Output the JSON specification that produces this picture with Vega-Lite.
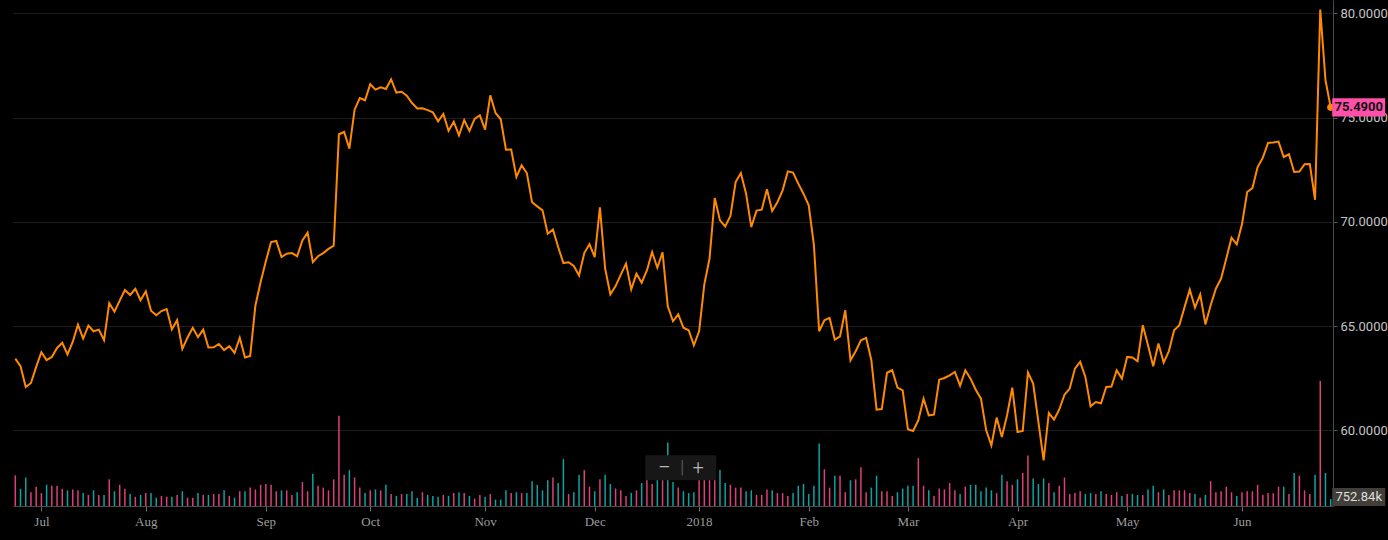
{
  "$schema": "https://vega.github.io/schema/vega-lite/v6.json",
  "width": 1320,
  "height": 506,
  "autosize": {"type": "none"},
  "padding": {"left": 13, "top": 0, "right": 55, "bottom": 34},
  "background": "#000000",
  "title": {
    "text": "FINANCE",
    "orient": "top",
    "anchor": "end",
    "frame": "group",
    "offset": 0,
    "dy": 9,
    "dx": -23,
    "baseline": "alphabetic",
    "color": "#202020",
    "fontSize": 18,
    "fontWeight": "bold",
    "font": "Liberation Sans"
  },
  "config": {"view": {"stroke": null}},
  "data": {
    "values": [
      {"d": "2017-06-26", "close": 63.44, "vol": 3330000, "dir": "up"},
      {"d": "2017-06-27", "close": 63.08, "vol": 1870000, "dir": "down"},
      {"d": "2017-06-28", "close": 62.08, "vol": 3100000, "dir": "down"},
      {"d": "2017-06-29", "close": 62.27, "vol": 1500000, "dir": "up"},
      {"d": "2017-06-30", "close": 63.04, "vol": 2100000, "dir": "up"},
      {"d": "2017-07-03", "close": 63.75, "vol": 1400000, "dir": "up"},
      {"d": "2017-07-05", "close": 63.37, "vol": 2300000, "dir": "down"},
      {"d": "2017-07-06", "close": 63.52, "vol": 2200000, "dir": "up"},
      {"d": "2017-07-07", "close": 63.95, "vol": 2200000, "dir": "up"},
      {"d": "2017-07-10", "close": 64.2, "vol": 1870000, "dir": "up"},
      {"d": "2017-07-11", "close": 63.64, "vol": 1700000, "dir": "down"},
      {"d": "2017-07-12", "close": 64.24, "vol": 1800000, "dir": "up"},
      {"d": "2017-07-13", "close": 65.07, "vol": 1700000, "dir": "up"},
      {"d": "2017-07-14", "close": 64.4, "vol": 1400000, "dir": "down"},
      {"d": "2017-07-17", "close": 65.02, "vol": 1200000, "dir": "up"},
      {"d": "2017-07-18", "close": 64.75, "vol": 1700000, "dir": "down"},
      {"d": "2017-07-19", "close": 64.83, "vol": 1200000, "dir": "up"},
      {"d": "2017-07-20", "close": 64.32, "vol": 1200000, "dir": "down"},
      {"d": "2017-07-21", "close": 66.1, "vol": 2900000, "dir": "up"},
      {"d": "2017-07-24", "close": 65.69, "vol": 1600000, "dir": "down"},
      {"d": "2017-07-25", "close": 66.22, "vol": 2300000, "dir": "up"},
      {"d": "2017-07-26", "close": 66.73, "vol": 1870000, "dir": "up"},
      {"d": "2017-07-27", "close": 66.49, "vol": 1300000, "dir": "down"},
      {"d": "2017-07-28", "close": 66.79, "vol": 1000000, "dir": "up"},
      {"d": "2017-07-31", "close": 66.24, "vol": 1200000, "dir": "down"},
      {"d": "2017-08-01", "close": 66.67, "vol": 1400000, "dir": "up"},
      {"d": "2017-08-02", "close": 65.74, "vol": 1400000, "dir": "down"},
      {"d": "2017-08-03", "close": 65.52, "vol": 900000, "dir": "down"},
      {"d": "2017-08-04", "close": 65.72, "vol": 1100000, "dir": "up"},
      {"d": "2017-08-07", "close": 65.82, "vol": 1000000, "dir": "up"},
      {"d": "2017-08-08", "close": 64.84, "vol": 1000000, "dir": "down"},
      {"d": "2017-08-09", "close": 65.28, "vol": 1200000, "dir": "up"},
      {"d": "2017-08-10", "close": 63.9, "vol": 1600000, "dir": "down"},
      {"d": "2017-08-11", "close": 64.45, "vol": 900000, "dir": "up"},
      {"d": "2017-08-14", "close": 64.92, "vol": 900000, "dir": "up"},
      {"d": "2017-08-15", "close": 64.47, "vol": 1400000, "dir": "down"},
      {"d": "2017-08-16", "close": 64.83, "vol": 1200000, "dir": "up"},
      {"d": "2017-08-17", "close": 63.97, "vol": 1200000, "dir": "down"},
      {"d": "2017-08-18", "close": 63.98, "vol": 1300000, "dir": "up"},
      {"d": "2017-08-21", "close": 64.14, "vol": 1300000, "dir": "up"},
      {"d": "2017-08-22", "close": 63.85, "vol": 1700000, "dir": "down"},
      {"d": "2017-08-23", "close": 64.04, "vol": 1100000, "dir": "up"},
      {"d": "2017-08-24", "close": 63.71, "vol": 900000, "dir": "down"},
      {"d": "2017-08-25", "close": 64.44, "vol": 1600000, "dir": "up"},
      {"d": "2017-08-28", "close": 63.49, "vol": 1600000, "dir": "down"},
      {"d": "2017-08-29", "close": 63.57, "vol": 2000000, "dir": "up"},
      {"d": "2017-08-30", "close": 65.99, "vol": 1800000, "dir": "up"},
      {"d": "2017-08-31", "close": 67.11, "vol": 2300000, "dir": "up"},
      {"d": "2017-09-01", "close": 68.11, "vol": 2400000, "dir": "up"},
      {"d": "2017-09-05", "close": 69.03, "vol": 2300000, "dir": "up"},
      {"d": "2017-09-06", "close": 69.08, "vol": 1600000, "dir": "up"},
      {"d": "2017-09-07", "close": 68.31, "vol": 1700000, "dir": "down"},
      {"d": "2017-09-08", "close": 68.47, "vol": 1700000, "dir": "up"},
      {"d": "2017-09-11", "close": 68.5, "vol": 1200000, "dir": "up"},
      {"d": "2017-09-12", "close": 68.35, "vol": 1500000, "dir": "down"},
      {"d": "2017-09-13", "close": 69.11, "vol": 2600000, "dir": "up"},
      {"d": "2017-09-14", "close": 69.48, "vol": 1600000, "dir": "up"},
      {"d": "2017-09-15", "close": 68.07, "vol": 3500000, "dir": "down"},
      {"d": "2017-09-18", "close": 68.35, "vol": 2200000, "dir": "up"},
      {"d": "2017-09-19", "close": 68.5, "vol": 2000000, "dir": "up"},
      {"d": "2017-09-20", "close": 68.7, "vol": 1700000, "dir": "up"},
      {"d": "2017-09-21", "close": 68.86, "vol": 2900000, "dir": "up"},
      {"d": "2017-09-22", "close": 74.2, "vol": 9800000, "dir": "up"},
      {"d": "2017-09-25", "close": 74.31, "vol": 3400000, "dir": "up"},
      {"d": "2017-09-26", "close": 73.51, "vol": 3900000, "dir": "down"},
      {"d": "2017-09-27", "close": 75.38, "vol": 3100000, "dir": "up"},
      {"d": "2017-09-28", "close": 75.94, "vol": 2000000, "dir": "up"},
      {"d": "2017-09-29", "close": 75.83, "vol": 1400000, "dir": "down"},
      {"d": "2017-10-02", "close": 76.6, "vol": 1700000, "dir": "up"},
      {"d": "2017-10-03", "close": 76.34, "vol": 1800000, "dir": "down"},
      {"d": "2017-10-04", "close": 76.45, "vol": 1700000, "dir": "up"},
      {"d": "2017-10-05", "close": 76.37, "vol": 2300000, "dir": "down"},
      {"d": "2017-10-06", "close": 76.83, "vol": 1300000, "dir": "up"},
      {"d": "2017-10-09", "close": 76.2, "vol": 1100000, "dir": "down"},
      {"d": "2017-10-10", "close": 76.24, "vol": 1300000, "dir": "up"},
      {"d": "2017-10-11", "close": 76.05, "vol": 1300000, "dir": "down"},
      {"d": "2017-10-12", "close": 75.7, "vol": 1600000, "dir": "down"},
      {"d": "2017-10-13", "close": 75.44, "vol": 900000, "dir": "down"},
      {"d": "2017-10-16", "close": 75.45, "vol": 1500000, "dir": "up"},
      {"d": "2017-10-17", "close": 75.36, "vol": 1200000, "dir": "down"},
      {"d": "2017-10-18", "close": 75.25, "vol": 1100000, "dir": "down"},
      {"d": "2017-10-19", "close": 74.82, "vol": 1000000, "dir": "down"},
      {"d": "2017-10-20", "close": 75.17, "vol": 1200000, "dir": "up"},
      {"d": "2017-10-23", "close": 74.37, "vol": 1100000, "dir": "down"},
      {"d": "2017-10-24", "close": 74.8, "vol": 1400000, "dir": "up"},
      {"d": "2017-10-25", "close": 74.15, "vol": 1500000, "dir": "down"},
      {"d": "2017-10-26", "close": 74.88, "vol": 1400000, "dir": "up"},
      {"d": "2017-10-27", "close": 74.36, "vol": 1100000, "dir": "down"},
      {"d": "2017-10-30", "close": 74.94, "vol": 800000, "dir": "up"},
      {"d": "2017-10-31", "close": 75.11, "vol": 1200000, "dir": "up"},
      {"d": "2017-11-01", "close": 74.42, "vol": 1000000, "dir": "down"},
      {"d": "2017-11-02", "close": 76.07, "vol": 1300000, "dir": "up"},
      {"d": "2017-11-03", "close": 75.22, "vol": 700000, "dir": "down"},
      {"d": "2017-11-06", "close": 74.92, "vol": 700000, "dir": "down"},
      {"d": "2017-11-07", "close": 73.46, "vol": 1700000, "dir": "down"},
      {"d": "2017-11-08", "close": 73.47, "vol": 1400000, "dir": "up"},
      {"d": "2017-11-09", "close": 72.15, "vol": 1500000, "dir": "down"},
      {"d": "2017-11-10", "close": 72.71, "vol": 1400000, "dir": "up"},
      {"d": "2017-11-13", "close": 72.34, "vol": 1400000, "dir": "down"},
      {"d": "2017-11-14", "close": 70.94, "vol": 2700000, "dir": "down"},
      {"d": "2017-11-15", "close": 70.74, "vol": 2300000, "dir": "down"},
      {"d": "2017-11-16", "close": 70.55, "vol": 1700000, "dir": "down"},
      {"d": "2017-11-17", "close": 69.43, "vol": 2800000, "dir": "down"},
      {"d": "2017-11-20", "close": 69.63, "vol": 3100000, "dir": "up"},
      {"d": "2017-11-21", "close": 68.79, "vol": 2500000, "dir": "down"},
      {"d": "2017-11-22", "close": 68.02, "vol": 5100000, "dir": "down"},
      {"d": "2017-11-24", "close": 68.06, "vol": 1300000, "dir": "up"},
      {"d": "2017-11-27", "close": 67.88, "vol": 1500000, "dir": "down"},
      {"d": "2017-11-28", "close": 67.43, "vol": 3400000, "dir": "down"},
      {"d": "2017-11-29", "close": 68.5, "vol": 3900000, "dir": "up"},
      {"d": "2017-11-30", "close": 68.92, "vol": 2100000, "dir": "up"},
      {"d": "2017-12-01", "close": 68.31, "vol": 1600000, "dir": "down"},
      {"d": "2017-12-04", "close": 70.7, "vol": 2900000, "dir": "up"},
      {"d": "2017-12-05", "close": 67.76, "vol": 3400000, "dir": "down"},
      {"d": "2017-12-06", "close": 66.52, "vol": 2400000, "dir": "down"},
      {"d": "2017-12-07", "close": 66.92, "vol": 1900000, "dir": "up"},
      {"d": "2017-12-08", "close": 67.47, "vol": 1700000, "dir": "up"},
      {"d": "2017-12-11", "close": 68.0, "vol": 1100000, "dir": "up"},
      {"d": "2017-12-12", "close": 66.76, "vol": 1400000, "dir": "down"},
      {"d": "2017-12-13", "close": 67.51, "vol": 1700000, "dir": "up"},
      {"d": "2017-12-14", "close": 67.08, "vol": 2500000, "dir": "down"},
      {"d": "2017-12-15", "close": 67.67, "vol": 3100000, "dir": "up"},
      {"d": "2017-12-18", "close": 68.55, "vol": 2400000, "dir": "up"},
      {"d": "2017-12-19", "close": 67.8, "vol": 2900000, "dir": "down"},
      {"d": "2017-12-20", "close": 68.54, "vol": 2900000, "dir": "up"},
      {"d": "2017-12-21", "close": 65.95, "vol": 6900000, "dir": "down"},
      {"d": "2017-12-22", "close": 65.23, "vol": 2600000, "dir": "down"},
      {"d": "2017-12-26", "close": 65.56, "vol": 2000000, "dir": "up"},
      {"d": "2017-12-27", "close": 64.92, "vol": 1600000, "dir": "down"},
      {"d": "2017-12-28", "close": 64.8, "vol": 1400000, "dir": "down"},
      {"d": "2017-12-29", "close": 64.08, "vol": 1500000, "dir": "down"},
      {"d": "2018-01-02", "close": 64.75, "vol": 2900000, "dir": "up"},
      {"d": "2018-01-03", "close": 67.0, "vol": 2900000, "dir": "up"},
      {"d": "2018-01-04", "close": 68.24, "vol": 2900000, "dir": "up"},
      {"d": "2018-01-05", "close": 71.14, "vol": 3300000, "dir": "up"},
      {"d": "2018-01-08", "close": 70.07, "vol": 3900000, "dir": "down"},
      {"d": "2018-01-09", "close": 69.78, "vol": 2500000, "dir": "down"},
      {"d": "2018-01-10", "close": 70.28, "vol": 2300000, "dir": "up"},
      {"d": "2018-01-11", "close": 71.91, "vol": 2000000, "dir": "up"},
      {"d": "2018-01-12", "close": 72.34, "vol": 2000000, "dir": "up"},
      {"d": "2018-01-16", "close": 71.35, "vol": 1600000, "dir": "down"},
      {"d": "2018-01-17", "close": 69.75, "vol": 1700000, "dir": "down"},
      {"d": "2018-01-18", "close": 70.54, "vol": 1200000, "dir": "up"},
      {"d": "2018-01-19", "close": 70.58, "vol": 1200000, "dir": "up"},
      {"d": "2018-01-22", "close": 71.56, "vol": 1800000, "dir": "up"},
      {"d": "2018-01-23", "close": 70.52, "vol": 1700000, "dir": "down"},
      {"d": "2018-01-24", "close": 70.94, "vol": 1400000, "dir": "up"},
      {"d": "2018-01-25", "close": 71.51, "vol": 1400000, "dir": "up"},
      {"d": "2018-01-26", "close": 72.42, "vol": 1100000, "dir": "up"},
      {"d": "2018-01-29", "close": 72.36, "vol": 1400000, "dir": "down"},
      {"d": "2018-01-30", "close": 71.83, "vol": 2200000, "dir": "down"},
      {"d": "2018-01-31", "close": 71.35, "vol": 2400000, "dir": "down"},
      {"d": "2018-02-01", "close": 70.79, "vol": 1300000, "dir": "down"},
      {"d": "2018-02-02", "close": 68.87, "vol": 2200000, "dir": "down"},
      {"d": "2018-02-05", "close": 64.75, "vol": 6800000, "dir": "down"},
      {"d": "2018-02-06", "close": 65.28, "vol": 4000000, "dir": "up"},
      {"d": "2018-02-07", "close": 65.39, "vol": 2000000, "dir": "up"},
      {"d": "2018-02-08", "close": 64.35, "vol": 3300000, "dir": "down"},
      {"d": "2018-02-09", "close": 64.51, "vol": 3300000, "dir": "up"},
      {"d": "2018-02-12", "close": 65.76, "vol": 1500000, "dir": "up"},
      {"d": "2018-02-13", "close": 63.36, "vol": 2800000, "dir": "down"},
      {"d": "2018-02-14", "close": 63.79, "vol": 2900000, "dir": "up"},
      {"d": "2018-02-15", "close": 64.32, "vol": 4200000, "dir": "up"},
      {"d": "2018-02-16", "close": 64.43, "vol": 1500000, "dir": "up"},
      {"d": "2018-02-20", "close": 63.36, "vol": 2000000, "dir": "down"},
      {"d": "2018-02-21", "close": 60.99, "vol": 3300000, "dir": "down"},
      {"d": "2018-02-22", "close": 61.02, "vol": 1600000, "dir": "up"},
      {"d": "2018-02-23", "close": 62.76, "vol": 1600000, "dir": "up"},
      {"d": "2018-02-26", "close": 62.88, "vol": 1100000, "dir": "up"},
      {"d": "2018-02-27", "close": 62.05, "vol": 1500000, "dir": "down"},
      {"d": "2018-02-28", "close": 61.92, "vol": 1900000, "dir": "down"},
      {"d": "2018-03-01", "close": 60.05, "vol": 2200000, "dir": "down"},
      {"d": "2018-03-02", "close": 59.97, "vol": 2200000, "dir": "down"},
      {"d": "2018-03-05", "close": 60.48, "vol": 5200000, "dir": "up"},
      {"d": "2018-03-06", "close": 61.52, "vol": 2200000, "dir": "up"},
      {"d": "2018-03-07", "close": 60.72, "vol": 1700000, "dir": "down"},
      {"d": "2018-03-08", "close": 60.75, "vol": 1100000, "dir": "up"},
      {"d": "2018-03-09", "close": 62.43, "vol": 1900000, "dir": "up"},
      {"d": "2018-03-12", "close": 62.51, "vol": 1800000, "dir": "up"},
      {"d": "2018-03-13", "close": 62.64, "vol": 2500000, "dir": "up"},
      {"d": "2018-03-14", "close": 62.8, "vol": 1700000, "dir": "up"},
      {"d": "2018-03-15", "close": 62.14, "vol": 1300000, "dir": "down"},
      {"d": "2018-03-16", "close": 62.88, "vol": 2100000, "dir": "up"},
      {"d": "2018-03-19", "close": 62.48, "vol": 2300000, "dir": "down"},
      {"d": "2018-03-20", "close": 61.95, "vol": 2300000, "dir": "down"},
      {"d": "2018-03-21", "close": 61.52, "vol": 1600000, "dir": "down"},
      {"d": "2018-03-22", "close": 60.0, "vol": 2000000, "dir": "down"},
      {"d": "2018-03-23", "close": 59.28, "vol": 1700000, "dir": "down"},
      {"d": "2018-03-26", "close": 60.61, "vol": 1400000, "dir": "up"},
      {"d": "2018-03-27", "close": 59.68, "vol": 3400000, "dir": "down"},
      {"d": "2018-03-28", "close": 60.72, "vol": 2700000, "dir": "up"},
      {"d": "2018-03-29", "close": 62.05, "vol": 2300000, "dir": "up"},
      {"d": "2018-04-02", "close": 59.92, "vol": 2900000, "dir": "down"},
      {"d": "2018-04-03", "close": 59.97, "vol": 3600000, "dir": "up"},
      {"d": "2018-04-04", "close": 62.77, "vol": 5500000, "dir": "up"},
      {"d": "2018-04-05", "close": 62.24, "vol": 3000000, "dir": "down"},
      {"d": "2018-04-06", "close": 60.4, "vol": 2400000, "dir": "down"},
      {"d": "2018-04-09", "close": 58.56, "vol": 3000000, "dir": "down"},
      {"d": "2018-04-10", "close": 60.83, "vol": 2500000, "dir": "up"},
      {"d": "2018-04-11", "close": 60.51, "vol": 1500000, "dir": "down"},
      {"d": "2018-04-12", "close": 61.0, "vol": 2200000, "dir": "up"},
      {"d": "2018-04-13", "close": 61.71, "vol": 3100000, "dir": "up"},
      {"d": "2018-04-16", "close": 62.0, "vol": 1300000, "dir": "up"},
      {"d": "2018-04-17", "close": 62.96, "vol": 1400000, "dir": "up"},
      {"d": "2018-04-18", "close": 63.28, "vol": 1600000, "dir": "up"},
      {"d": "2018-04-19", "close": 62.56, "vol": 1300000, "dir": "down"},
      {"d": "2018-04-20", "close": 61.15, "vol": 1400000, "dir": "down"},
      {"d": "2018-04-23", "close": 61.36, "vol": 1300000, "dir": "up"},
      {"d": "2018-04-24", "close": 61.3, "vol": 1600000, "dir": "down"},
      {"d": "2018-04-25", "close": 62.08, "vol": 1300000, "dir": "up"},
      {"d": "2018-04-26", "close": 62.1, "vol": 1200000, "dir": "up"},
      {"d": "2018-04-27", "close": 62.88, "vol": 1500000, "dir": "up"},
      {"d": "2018-04-30", "close": 62.48, "vol": 1100000, "dir": "down"},
      {"d": "2018-05-01", "close": 63.52, "vol": 1300000, "dir": "up"},
      {"d": "2018-05-02", "close": 63.49, "vol": 1300000, "dir": "down"},
      {"d": "2018-05-03", "close": 63.31, "vol": 1200000, "dir": "down"},
      {"d": "2018-05-04", "close": 65.04, "vol": 1200000, "dir": "up"},
      {"d": "2018-05-07", "close": 64.08, "vol": 1800000, "dir": "down"},
      {"d": "2018-05-08", "close": 63.07, "vol": 2200000, "dir": "down"},
      {"d": "2018-05-09", "close": 64.16, "vol": 1500000, "dir": "up"},
      {"d": "2018-05-10", "close": 63.25, "vol": 1800000, "dir": "down"},
      {"d": "2018-05-11", "close": 63.8, "vol": 1200000, "dir": "up"},
      {"d": "2018-05-14", "close": 64.8, "vol": 1700000, "dir": "up"},
      {"d": "2018-05-15", "close": 65.04, "vol": 1700000, "dir": "up"},
      {"d": "2018-05-16", "close": 65.91, "vol": 1700000, "dir": "up"},
      {"d": "2018-05-17", "close": 66.75, "vol": 1400000, "dir": "up"},
      {"d": "2018-05-18", "close": 65.88, "vol": 1300000, "dir": "down"},
      {"d": "2018-05-21", "close": 66.52, "vol": 900000, "dir": "up"},
      {"d": "2018-05-22", "close": 65.08, "vol": 1200000, "dir": "down"},
      {"d": "2018-05-23", "close": 66.0, "vol": 2700000, "dir": "up"},
      {"d": "2018-05-24", "close": 66.79, "vol": 1500000, "dir": "up"},
      {"d": "2018-05-25", "close": 67.28, "vol": 1600000, "dir": "up"},
      {"d": "2018-05-29", "close": 68.24, "vol": 2100000, "dir": "up"},
      {"d": "2018-05-30", "close": 69.24, "vol": 1500000, "dir": "up"},
      {"d": "2018-05-31", "close": 68.92, "vol": 1100000, "dir": "down"},
      {"d": "2018-06-01", "close": 69.88, "vol": 1500000, "dir": "up"},
      {"d": "2018-06-04", "close": 71.43, "vol": 1600000, "dir": "up"},
      {"d": "2018-06-05", "close": 71.62, "vol": 1600000, "dir": "up"},
      {"d": "2018-06-06", "close": 72.63, "vol": 2300000, "dir": "up"},
      {"d": "2018-06-07", "close": 73.08, "vol": 1200000, "dir": "up"},
      {"d": "2018-06-08", "close": 73.78, "vol": 1400000, "dir": "up"},
      {"d": "2018-06-11", "close": 73.81, "vol": 1400000, "dir": "up"},
      {"d": "2018-06-12", "close": 73.85, "vol": 2100000, "dir": "up"},
      {"d": "2018-06-13", "close": 73.11, "vol": 2100000, "dir": "down"},
      {"d": "2018-06-14", "close": 73.24, "vol": 1300000, "dir": "up"},
      {"d": "2018-06-15", "close": 72.39, "vol": 3600000, "dir": "down"},
      {"d": "2018-06-18", "close": 72.41, "vol": 3300000, "dir": "up"},
      {"d": "2018-06-19", "close": 72.76, "vol": 1700000, "dir": "up"},
      {"d": "2018-06-20", "close": 72.77, "vol": 1300000, "dir": "up"},
      {"d": "2018-06-21", "close": 71.06, "vol": 3400000, "dir": "down"},
      {"d": "2018-06-22", "close": 80.18, "vol": 13600000, "dir": "up"},
      {"d": "2018-06-25", "close": 76.79, "vol": 3600000, "dir": "down"},
      {"d": "2018-06-26", "close": 75.49, "vol": 752840, "dir": "down"}
    ]
  },
  "encoding": {
    "x": {
      "field": "d",
      "type": "ordinal",
      "scale": {"type": "point", "padding": 0.44},
      "axis": {
        "title": null,
        "values": ["2017-07-03", "2017-08-01", "2017-09-01", "2017-10-02", "2017-11-01", "2017-12-01", "2018-01-02", "2018-02-01", "2018-03-01", "2018-04-02", "2018-05-01", "2018-06-01"],
        "labelExpr": "utcmonth(toDate(datum.value)) == 0 ? utcFormat(toDate(datum.value), '%Y') : utcFormat(toDate(datum.value), '%b')",
        "labelAngle": 0,
        "grid": false,
        "domainColor": "#4d4d4d",
        "tickColor": "#6a6a6a",
        "tickSize": 5,
        "labelColor": "#9c9c9c",
        "labelFont": "Liberation Serif",
        "labelFontSize": 13,
        "labelPadding": 4
      }
    }
  },
  "layer": [
    {
      "layer": [
        {
          "mark": {"type": "rule", "strokeWidth": 1.5},
          "encoding": {
            "y": {"field": "vol", "type": "quantitative", "scale": {"domain": [0, 50600000]}, "axis": null},
            "y2": {"datum": 0},
            "color": {
              "field": "dir",
              "type": "nominal",
              "scale": {"domain": ["up", "down"], "range": ["#dc3f7a", "#0aa4a4"]},
              "legend": null
            }
          }
        },
        {
          "data": {"values": [{}]},
          "layer": [
            {
              "mark": {"type": "point", "shape": "M-1,-0.352H1V0.352H-1Z", "filled": true, "opacity": 1, "color": "#171717", "size": 5041, "xOffset": 2.5},
              "encoding": {"x": {"datum": "2017-12-26", "type": "ordinal"}, "y": {"datum": 4150000, "type": "quantitative"}}
            },
            {
              "mark": {"type": "text", "text": "—", "dx": -14, "color": "#b8b8b8", "fontSize": 14, "font": "Roboto", "align": "center", "baseline": "middle"},
              "encoding": {"x": {"datum": "2017-12-26", "type": "ordinal"}, "y": {"datum": 4150000, "type": "quantitative"}}
            },
            {
              "mark": {"type": "text", "text": "|", "dx": 4, "color": "#505050", "fontSize": 18, "font": "Roboto", "align": "center", "baseline": "middle"},
              "encoding": {"x": {"datum": "2017-12-26", "type": "ordinal"}, "y": {"datum": 4150000, "type": "quantitative"}}
            },
            {
              "mark": {"type": "text", "text": "+", "dx": 20, "color": "#b8b8b8", "fontSize": 20, "font": "Roboto", "fontWeight": 300, "align": "center", "baseline": "middle"},
              "encoding": {"x": {"datum": "2017-12-26", "type": "ordinal"}, "y": {"datum": 4150000, "type": "quantitative"}}
            }
          ]
        },
        {
          "transform": [{"filter": "datum.d == '2018-06-26'"}],
          "mark": {"type": "point", "shape": "M-1,-0.34H1V0.34H-1Z", "filled": true, "opacity": 1, "color": "#423f3b", "size": 2809, "xOffset": 28, "yOffset": -2},
          "encoding": {"y": {"field": "vol", "type": "quantitative"}}
        },
        {
          "transform": [{"filter": "datum.d == '2018-06-26'"}],
          "mark": {"type": "text", "dx": 28, "dy": -2, "color": "#dedede", "fontSize": 13, "font": "Roboto", "align": "center", "baseline": "middle"},
          "encoding": {
            "y": {"field": "vol", "type": "quantitative"},
            "text": {"field": "vol", "type": "quantitative", "format": ".5s"}
          }
        }
      ]
    },
    {
      "layer": [
        {
          "mark": {"type": "line", "color": "#ff8a00", "strokeWidth": 2},
          "encoding": {
            "y": {
              "field": "close",
              "type": "quantitative",
              "scale": {"domain": [56.37, 80.64], "nice": false, "zero": false},
              "axis": {
                "orient": "right",
                "title": null,
                "values": [60, 65, 70, 75, 80],
                "format": ".4f",
                "grid": true,
                "gridColor": "#1e1e1e",
                "domainColor": "#4a4a4a",
                "tickColor": "#5a5a5a",
                "tickSize": 4,
                "labelColor": "#c4c4c4",
                "labelFont": "Roboto",
                "labelFontSize": 13,
                "labelPadding": 3
              }
            }
          }
        },
        {
          "transform": [{"filter": "datum.d == '2018-06-26'"}],
          "mark": {"type": "point", "filled": true, "opacity": 1, "color": "#ff8a00", "size": 50},
          "encoding": {"y": {"field": "close", "type": "quantitative"}}
        },
        {
          "transform": [{"filter": "datum.d == '2018-06-26'"}],
          "mark": {"type": "point", "shape": "M-1,-0.34H1V0.34H-1Z", "filled": true, "opacity": 1, "color": "#ff4fa8", "size": 2809, "xOffset": 28},
          "encoding": {"y": {"field": "close", "type": "quantitative"}}
        },
        {
          "transform": [{"filter": "datum.d == '2018-06-26'"}],
          "mark": {"type": "text", "dx": 28, "color": "#111111", "fontSize": 13, "fontWeight": "bold", "font": "Roboto", "align": "center", "baseline": "middle"},
          "encoding": {
            "y": {"field": "close", "type": "quantitative"},
            "text": {"field": "close", "type": "quantitative", "format": ".4f"}
          }
        }
      ]
    }
  ],
  "resolve": {"scale": {"y": "independent"}, "axis": {"y": "independent"}}
}
